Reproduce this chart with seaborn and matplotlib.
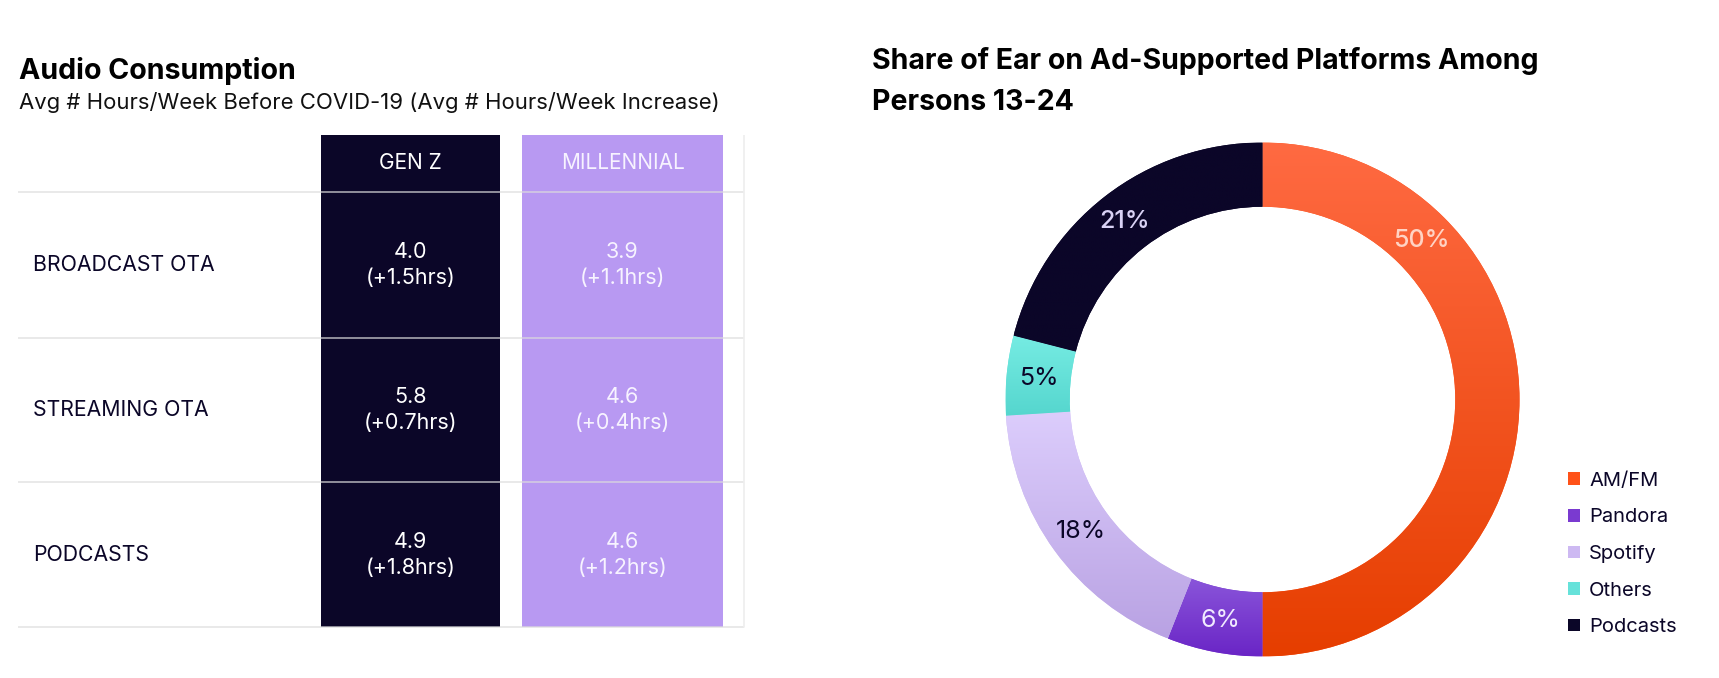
import numpy as np
import matplotlib
matplotlib.use("Agg")
import matplotlib.pyplot as plt
import seaborn as sns
from matplotlib.patches import Patch

# ---------------- data ----------------
generations = ["GEN Z", "MILLENNIAL"]
formats = ["BROADCAST OTA", "STREAMING OTA", "PODCASTS"]
genz_hours = [4.0, 5.8, 4.9]
genz_increase = [1.5, 0.7, 1.8]
mill_hours = [3.9, 4.6, 4.6]
mill_increase = [1.1, 0.4, 1.2]

platforms = ["AM/FM", "Pandora", "Spotify", "Others", "Podcasts"]
shares = [50, 6, 18, 5, 21]

# ---------------- style ----------------
sns.set_theme(style="white")
plt.rcParams['font.family'] = ['Inter', 'DejaVu Sans']

DARK = '#0B0628'
LAV = '#B899F2'
grad_top = ['#FF6A42', '#8A55DA', '#DCCDFC', '#76ECE3', DARK]
grad_bot = ['#E63E00', '#6A25C6', '#B9A2E3', '#55D6CE', DARK]
legend_cols = ['#FF5218', '#7A3AD0', '#CDB9F2', '#66E2DA', DARK]
label_cols = ['#FFD3C4', '#F1EAFF', '#0B0628', '#0B0628', '#D9D2F5']
label_weights = ['medium', 'normal', 'normal', 'normal', 'medium']
label_frac = [0.25, 0.5, 0.5, 0.5, 0.5]

W, H = 1719, 678
fig = plt.figure(figsize=(W / 100, H / 100), dpi=100)
fig.patch.set_facecolor('white')


def fx(px):
    return px / W


def fy(py):
    return 1 - py / H


# ---------------- left: table ----------------
fig.text(fx(19), fy(79), "Audio Consumption", fontsize=20.6, fontweight='bold',
         color='#000000', va='baseline')
fig.text(fx(19), fy(109), "Avg # Hours/Week Before COVID-19 (Avg # Hours/Week Increase)",
         fontsize=15.9, color='#111111', va='baseline')

tl, tr, tt, tb = 18, 745, 135, 628
axT = fig.add_axes([fx(tl), fy(tb), (tr - tl) / W, (tb - tt) / H])
axT.set_xlim(tl, tr)
axT.set_ylim(tb, tt)
axT.axis('off')

col_centers = [410.5, 622.5]
col_widths = [179, 201]
col_colors = [DARK, LAV]
col_text = ['#FFFFFF', '#F7F3FF']
axT.bar(col_centers, [627 - 135] * 2, bottom=135, width=col_widths,
        color=col_colors, linewidth=0, zorder=1)

row_lines = [192, 338, 482, 627]
for yl in row_lines:
    axT.plot([18, 744], [yl, yl], color='#DCDCDC', lw=1.2, alpha=0.75, zorder=3,
             solid_capstyle='butt')
axT.plot([744, 744], [135, 627], color='#EEEEEE', lw=1.2, zorder=3)

for xc, g, tc in zip(col_centers, generations, col_text):
    axT.text(xc, 163, g, ha='center', va='center', fontsize=15, color=tc)

row_centers = [265, 410, 555]
for i, (f, yc) in enumerate(zip(formats, row_centers)):
    axT.text(33, yc, f, ha='left', va='center', fontsize=15.3, color=DARK)
    for xc, hrs, inc, tc in [(col_centers[0], genz_hours[i], genz_increase[i], col_text[0]),
                             (col_centers[1], mill_hours[i], mill_increase[i], col_text[1])]:
        axT.text(xc, yc - 13, f"{hrs:.1f}", ha='center', va='center', fontsize=15.5,
                 color=tc)
        axT.text(xc, yc + 13, f"(+{inc:.1f}hrs)", ha='center', va='center', fontsize=15.5,
                 color=tc)

# ---------------- right: donut ----------------
fig.text(fx(872), fy(69), "Share of Ear on Ad-Supported Platforms Among", fontsize=20.5,
         fontweight='bold', color='#000000', va='baseline')
fig.text(fx(872), fy(110), "Persons 13-24", fontsize=20.5,
         fontweight='bold', color='#000000', va='baseline')

cx, cy, R = 1262.5, 399.5, 257
axP = fig.add_axes([fx(cx - R), fy(cy + R), 2 * R / W, 2 * R / H])
ring_w = 0.25
wedges, _ = axP.pie(shares, startangle=90, counterclock=False, radius=1,
                    colors=legend_cols,
                    wedgeprops=dict(width=ring_w, linewidth=0, antialiased=True))

for w, c0, c1 in zip(wedges, grad_top, grad_bot):
    ext = w.get_path().get_extents()
    rgb0 = np.array(matplotlib.colors.to_rgb(c0))
    rgb1 = np.array(matplotlib.colors.to_rgb(c1))
    t = np.linspace(0, 1, 256)[:, None]
    grad = (rgb1[None, :] * (1 - t) + rgb0[None, :] * t)[:, None, :]
    im = axP.imshow(grad, extent=[ext.x0, ext.x1, ext.y0, ext.y1], origin='lower',
                    aspect='auto', zorder=2, interpolation='bilinear')
    im.set_clip_path(w)

# labels
start = 90.0
total = float(sum(shares))
r_lab = 1 - ring_w / 2
for s, frac, lc, lw in zip(shares, label_frac, label_cols, label_weights):
    span = 360.0 * s / total
    ang = np.deg2rad(start - span * frac)
    axP.text(r_lab * np.cos(ang), r_lab * np.sin(ang), f"{s}%", ha='center', va='center',
             fontsize=18, color=lc, fontweight=lw, zorder=5)
    start -= span

axP.set_xlim(-1, 1)
axP.set_ylim(-1, 1)
axP.set_aspect('equal')
axP.axis('off')

handles = [Patch(facecolor=c, edgecolor='none', label=p) for p, c in zip(platforms, legend_cols)]
fig.legend(handles=handles, loc='center left', bbox_to_anchor=(fx(1568), fy(554)),
           frameon=False, fontsize=14.5, handlelength=0.6, handleheight=0.6,
           handletextpad=0.45, labelspacing=0.92, borderpad=0, borderaxespad=0,
           labelcolor=DARK)

fig.savefig('out.png', dpi=100, facecolor='white')
